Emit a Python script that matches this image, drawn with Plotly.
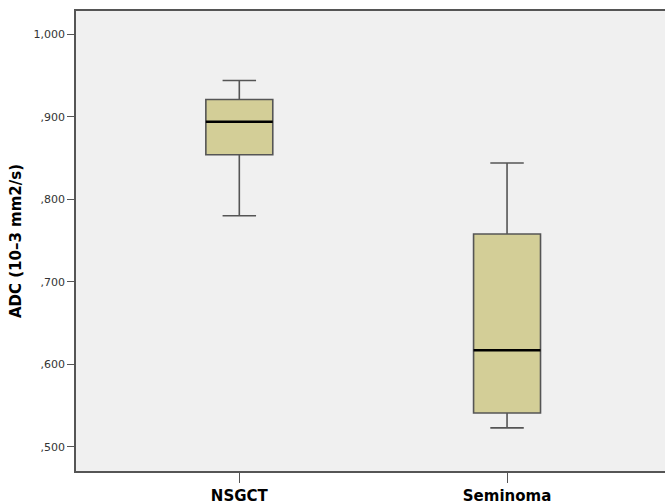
import plotly.graph_objects as go

categories = ["NSGCT", "Seminoma"]
lower_whisker = [0.780, 0.523]
q1_values = [0.854, 0.541]
median_values = [0.894, 0.617]
q3_values = [0.921, 0.758]
upper_whisker = [0.944, 0.844]

y_tick_vals = [0.5, 0.6, 0.7, 0.8, 0.9, 1.0]
y_tick_text = [",500", ",600", ",700", ",800", ",900", "1,000"]

fig = go.Figure()

fig.add_trace(go.Box(
    x=categories,
    q1=q1_values,
    median=median_values,
    q3=q3_values,
    lowerfence=lower_whisker,
    upperfence=upper_whisker,
    fillcolor="#D3CE97",
    line=dict(color="#555555", width=1.6),
    width=0.25,
    whiskerwidth=0.5,
    boxpoints=False,
    hoverinfo="skip",
    showlegend=False,
))

# black median line overlay
fig.add_trace(go.Box(
    x=categories,
    q1=median_values,
    median=median_values,
    q3=median_values,
    lowerfence=median_values,
    upperfence=median_values,
    fillcolor="rgba(0,0,0,0)",
    line=dict(color="#000000", width=2.6),
    width=0.25,
    whiskerwidth=0,
    boxpoints=False,
    hoverinfo="skip",
    showlegend=False,
))

fig.update_layout(
    width=665,
    height=503,
    margin=dict(l=76, r=0, t=10.5, b=32.3, autoexpand=False),
    paper_bgcolor="white",
    plot_bgcolor="#F0F0F0",
    boxmode="overlay",
    font=dict(family="DejaVu Sans", color="#222222"),
)

fig.update_xaxes(
    type="category",
    range=[-0.61, 1.59],
    showgrid=False,
    zeroline=False,
    showline=True,
    linecolor="#555555",
    linewidth=1.5,
    mirror=True,
    ticks="outside",
    ticklen=10,
    tickwidth=1.3,
    tickcolor="#555555",
    tickfont=dict(family="DejaVu Sans", size=15, color="#000000", weight="bold"),
)

fig.update_yaxes(
    range=[0.4707, 1.0282],
    tickvals=y_tick_vals,
    ticktext=y_tick_text,
    showgrid=False,
    zeroline=False,
    showline=True,
    linecolor="#555555",
    linewidth=1.5,
    ticks="outside",
    ticklen=7,
    tickwidth=1.3,
    tickcolor="#555555",
    tickfont=dict(family="DejaVu Sans", size=11, color="#333333"),
    title=dict(text="ADC (10\u20133 mm2/s)",
               font=dict(family="DejaVu Sans", size=15, color="#000000", weight="bold"),
               standoff=8),
)

fig.write_html("out.html", config={"displayModeBar": False},
               post_script="document.body.style.margin='0';")
